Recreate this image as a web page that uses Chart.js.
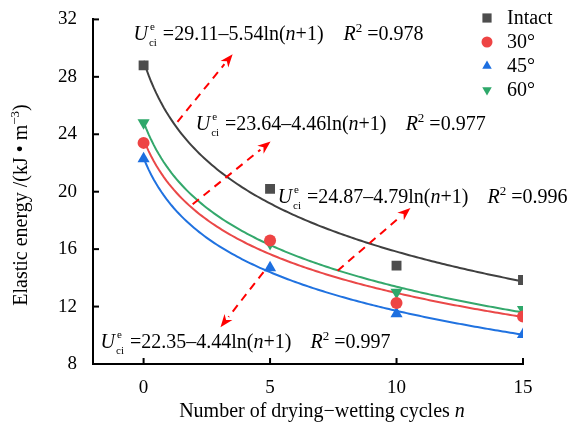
<!DOCTYPE html>
<html>
<head>
<meta charset="utf-8">
<script src="https://cdn.jsdelivr.net/npm/chart.js@4.4.0/dist/chart.umd.min.js"></script>
<style>
  body { margin: 0; background: #fff; }
</style>
</head>
<body>
<canvas id="chart" width="578" height="434"></canvas>
<script>
// drying-wetting cycles
const cycles = [0, 5, 10, 15];
const seriesNames = ['Intact', '30°', '45°', '60°'];
const intact = [28.8, 20.2, 14.85, 13.85];
const deg30 = [23.4, 16.6, 12.25, 11.3];
const deg45 = [22.3, 14.7, 11.5, 10.05];
const deg60 = [24.8, 16.4, 13.0, 11.8];
// fitted U = a - b*ln(n+1)
const fitA = [29.11, 23.64, 22.35, 24.87];
const fitB = [5.54, 4.46, 4.44, 4.79];
const fitR2 = ['0.978', '0.977', '0.997', '0.996'];
const xTicks = [0, 5, 10, 15];
const yTicks = [8, 12, 16, 20, 24, 28, 32];

const markerColors = ['#4d4d4d', '#ee4444', '#1d6fe0', '#2ea86a'];
const lineColors = ['#404040', '#ea4848', '#2072e0', '#34a86c'];
const styles = ['rect', 'circle', 'triangle', 'triangle'];
const rotations = [0, 0, 0, 180];
const radii = [7, 6, 7, 7];
const values = [intact, deg30, deg45, deg60];

// label spots (data coords): equation start, R2 start, baseline y
const eqX = [-0.4, 2.06, -1.7, 5.3];
const r2X = [7.9, 10.36, 6.6, 13.6];
const eqY = [30.6, 24.32, 9.1, 19.2];
// arrows [x0,y0,x1,y1] in data coords, head at x1,y1
const arrows = [
  [1.34, 24.87, 3.52, 29.58],
  [1.94, 19.13, 5.02, 23.49],
  [4.74, 14.4, 3.04, 10.56],
  [7.67, 14.5, 10.55, 18.86]
];

const FONT = '"Liberation Serif", "Times New Roman", serif';
const TXT = 20;

const datasets = [];
for (let i = 0; i < 4; i++) {
  datasets.push({
    type: 'scatter',
    label: seriesNames[i],
    data: cycles.map((n, j) => ({x: n, y: values[i][j]})),
    backgroundColor: markerColors[i],
    borderColor: markerColors[i],
    borderWidth: 0,
    pointStyle: styles[i],
    rotation: rotations[i],
    pointRadius: radii[i],
    pointHoverRadius: radii[i],
    order: 0
  });
}
for (let i = 0; i < 4; i++) {
  const pts = [];
  for (let k = 0; k <= 150; k++) {
    const n = k / 10;
    pts.push({x: n, y: fitA[i] - fitB[i] * Math.log(n + 1)});
  }
  datasets.push({
    type: 'line',
    label: 'fit ' + seriesNames[i],
    data: pts,
    borderColor: lineColors[i],
    borderWidth: 2,
    pointRadius: 0,
    fill: false,
    tension: 0,
    order: 1
  });
}

function drawRich(ctx, x, y, segs, size) {
  let cx = x;
  for (const s of segs) {
    const [t, st, t2] = s;
    if (st === 'stack') {
      ctx.font = Math.round(size * 0.55) + 'px ' + FONT;
      const w1 = ctx.measureText(t).width, w2 = ctx.measureText(t2).width;
      ctx.fillText(t, cx + 2, y - size * 0.5);
      ctx.fillText(t2, cx + 1, y + size * 0.3);
      cx += Math.max(w1, w2) + 2;
      continue;
    }
    let sz = size, dy = 0, it = st === 'i';
    if (st === 'sup') { sz = Math.round(size * 0.65); dy = -size * 0.4; }
    ctx.font = (it ? 'italic ' : '') + sz + 'px ' + FONT;
    ctx.fillText(t, cx, y + dy);
    cx += ctx.measureText(t).width;
  }
  return cx - x;
}
function richWidth(ctx, segs, size) {
  ctx.save();
  ctx.globalAlpha = 0;
  const w = drawRich(ctx, 0, 0, segs, size);
  ctx.restore();
  return w;
}

const extras = {
  id: 'extras',
  afterDatasetsDraw(chart) {
    const ctx = chart.ctx;
    const xs = chart.scales.x, ys = chart.scales.y;
    const area = chart.chartArea;
    ctx.save();
    // inward ticks
    ctx.strokeStyle = '#000';
    ctx.lineWidth = 2;
    for (const v of xTicks) {
      const px = xs.getPixelForValue(v);
      ctx.beginPath(); ctx.moveTo(px, area.bottom); ctx.lineTo(px, area.bottom - 6); ctx.stroke();
    }
    for (const v of yTicks) {
      const py = ys.getPixelForValue(v);
      ctx.beginPath(); ctx.moveTo(area.left, py); ctx.lineTo(area.left + 6, py); ctx.stroke();
    }
    // arrows
    ctx.strokeStyle = '#ff0000';
    ctx.fillStyle = '#ff0000';
    for (const a of arrows) {
      const x0 = xs.getPixelForValue(a[0]), y0 = ys.getPixelForValue(a[1]);
      const x1 = xs.getPixelForValue(a[2]), y1 = ys.getPixelForValue(a[3]);
      const ang = Math.atan2(y1 - y0, x1 - x0);
      const hl = 13, hw = 5;
      ctx.setLineDash([8, 6]);
      ctx.lineWidth = 2;
      ctx.beginPath();
      ctx.moveTo(x0, y0);
      ctx.lineTo(x1 - hl * Math.cos(ang), y1 - hl * Math.sin(ang));
      ctx.stroke();
      ctx.setLineDash([]);
      ctx.beginPath();
      ctx.moveTo(x1, y1);
      ctx.lineTo(x1 - hl * Math.cos(ang) - hw * Math.sin(ang), y1 - hl * Math.sin(ang) + hw * Math.cos(ang));
      ctx.lineTo(x1 - hl * 0.7 * Math.cos(ang), y1 - hl * 0.7 * Math.sin(ang));
      ctx.lineTo(x1 - hl * Math.cos(ang) + hw * Math.sin(ang), y1 - hl * Math.sin(ang) - hw * Math.cos(ang));
      ctx.closePath();
      ctx.fill();
    }
    // equations
    ctx.fillStyle = '#000';
    ctx.textBaseline = 'alphabetic';
    ctx.textAlign = 'left';
    for (let i = 0; i < 4; i++) {
      const by = ys.getPixelForValue(eqY[i]);
      drawRich(ctx, xs.getPixelForValue(eqX[i]), by, [
        ['U', 'i'], ['e', 'stack', 'ci'],
        [' =' + fitA[i].toFixed(2) + '\u2013' + fitB[i].toFixed(2) + 'ln(', 'n'],
        ['n', 'i'], ['+1)', 'n']
      ], TXT);
      drawRich(ctx, xs.getPixelForValue(r2X[i]), by, [
        ['R', 'i'], ['2', 'sup'], [' =' + fitR2[i], 'n']
      ], TXT);
    }
    // legend
    for (let i = 0; i < 4; i++) {
      const ly = 18 + i * 24;
      ctx.fillStyle = markerColors[i];
      Chart.helpers.drawPoint(ctx, {
        pointStyle: styles[i], rotation: rotations[i],
        radius: i === 0 ? 6.5 : 5.5, borderWidth: 0
      }, 487, ly);
      ctx.fillStyle = '#000';
      ctx.font = TXT + 'px ' + FONT;
      ctx.textBaseline = 'middle';
      ctx.fillText(seriesNames[i], 507, ly + 1);
    }
    ctx.textBaseline = 'alphabetic';
    // axis titles
    ctx.fillStyle = '#000';
    const xt = [['Number of drying\u2212wetting cycles ', 'n'], ['n', 'i']];
    const wx = richWidth(ctx, xt, TXT);
    drawRich(ctx, 322 - wx / 2, 417, xt, TXT);
    const yt = [['Elastic energy /(kJ \u2022 m', 'n'], ['\u22123', 'sup'], [')', 'n']];
    const wy = richWidth(ctx, yt, TXT);
    ctx.translate(27, 205);
    ctx.rotate(-Math.PI / 2);
    drawRich(ctx, -wy / 2, 0, yt, TXT);
    ctx.restore();
  }
};

new Chart(document.getElementById('chart'), {
  data: {datasets: datasets},
  options: {
    responsive: false,
    animation: false,
    layout: {padding: {top: 17, right: 55, left: 0, bottom: 0}},
    plugins: {legend: {display: false}, tooltip: {enabled: false}},
    scales: {
      x: {
        type: 'linear', min: -2, max: 15,
        grid: {display: false},
        border: {display: true, color: '#000', width: 2},
        afterBuildTicks: s => { s.ticks = xTicks.map(v => ({value: v})); },
        afterFit: s => { s.height = 70; },
        ticks: {color: '#000', font: {family: FONT, size: 19}, padding: 5, maxRotation: 0}
      },
      y: {
        type: 'linear', min: 8, max: 32,
        grid: {display: false},
        border: {display: true, color: '#000', width: 2},
        afterBuildTicks: s => { s.ticks = yTicks.map(v => ({value: v})); },
        afterFit: s => { s.width = 93; },
        ticks: {color: '#000', font: {family: FONT, size: 19}, padding: 8}
      }
    }
  },
  plugins: [extras]
});
</script>
</body>
</html>
